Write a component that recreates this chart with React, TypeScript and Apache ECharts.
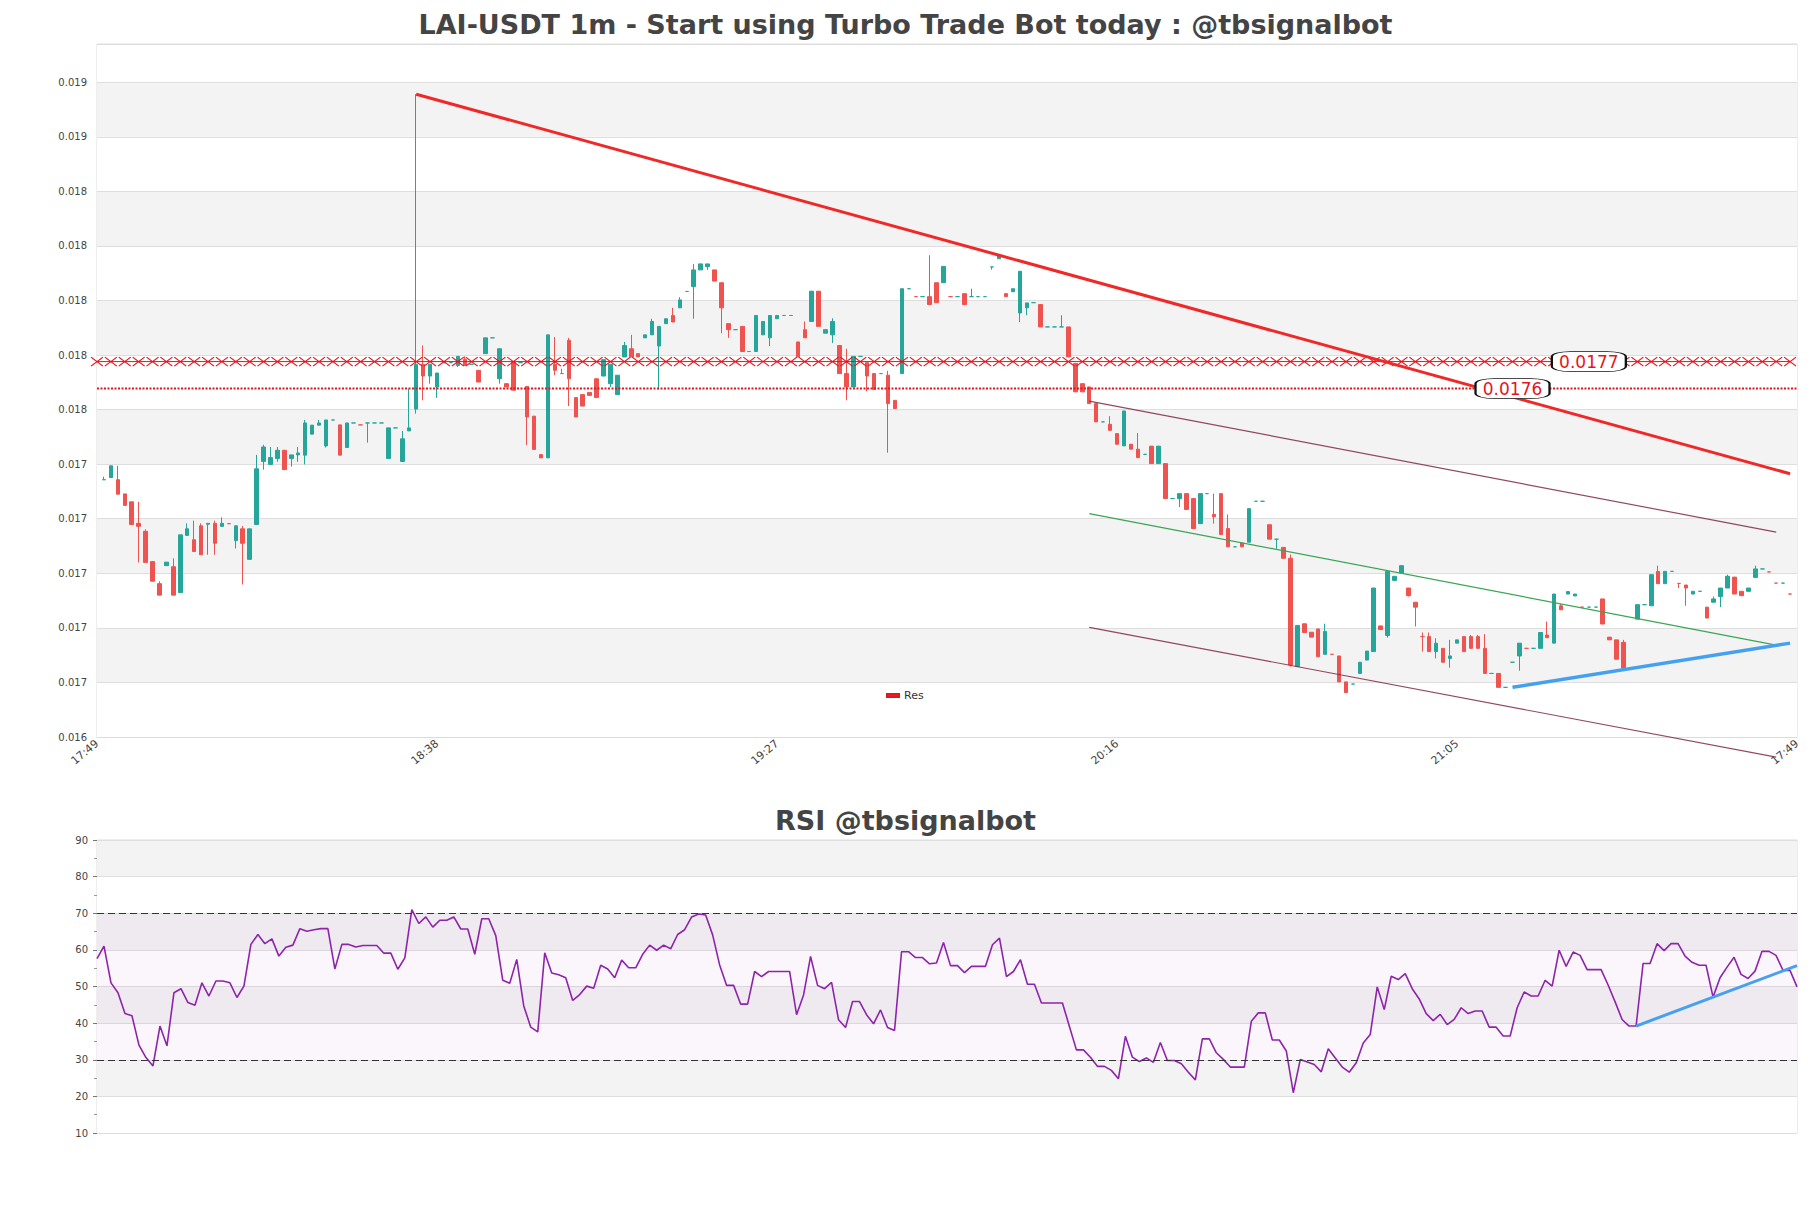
import React, { useEffect, useRef } from 'react';
import * as echarts from 'echarts';

const TITLE = 'LAI-USDT 1m - Start using Turbo Trade Bot today : @tbsignalbot';
const RSI_TITLE = 'RSI @tbsignalbot';
const FONT = 'DejaVu Sans';

// x tick labels (one every 49 minutes across the axis)
const tickLabels = ['17:49', '18:38', '19:27', '20:16', '21:05', '17:49'];
const TICK_STEP = 49;

// price axis: gridlines start at this base and step 0.0002
const AXIS_BASE = 0.01633;
const AXIS_SPAN = 0.00254;
const AXIS_STEP = 0.0002;

const opens = [
  0.017273, 0.017281, 0.017273, 0.017221, 0.017192, 0.017113, 0.017084, 0.016973, 0.016892, 0.016958,
  0.016954, 0.016859, 0.017069, 0.017053, 0.017104, 0.017110, 0.017113, 0.017102, 0.017112, 0.017050,
  0.017093, 0.016981, 0.017109, 0.017340, 0.017329, 0.017351, 0.017381, 0.017351, 0.017364, 0.017363,
  0.017440, 0.017473, 0.017397, 0.017492, 0.017474, 0.017391, 0.017481, 0.017474, 0.017481, 0.017481,
  0.017481, 0.017351, 0.017463, 0.017340, 0.017452, 0.017532, 0.017696, 0.017653, 0.017613, 0.017702,
  0.017702, 0.017692, 0.017714, 0.017696, 0.017674, 0.017735, 0.017793, 0.017643, 0.017625, 0.017702,
  0.017702, 0.017615, 0.017506, 0.017365, 0.017353, 0.017696, 0.017662, 0.017784, 0.017574, 0.017585,
  0.017593, 0.017643, 0.017653, 0.017625, 0.017585, 0.017723, 0.017753, 0.017735, 0.017793, 0.017804,
  0.017763, 0.017845, 0.017875, 0.017903, 0.017963, 0.017981, 0.018042, 0.018054, 0.018042, 0.017995,
  0.017845, 0.017823, 0.017835, 0.017743, 0.017743, 0.017804, 0.017793, 0.017863, 0.017875, 0.017875,
  0.017778, 0.017823, 0.017853, 0.017964, 0.017810, 0.017804, 0.017765, 0.017662, 0.017613, 0.017725,
  0.017702, 0.017662, 0.017662, 0.017656, 0.017564, 0.017662, 0.017973, 0.017944, 0.017944, 0.017944,
  0.017995, 0.017995, 0.017944, 0.017944, 0.017955, 0.017944, 0.017944, 0.017944, 0.018053, 0.018083,
  0.017955, 0.017962, 0.017884, 0.017903, 0.017922, 0.017915, 0.017833, 0.017833, 0.017833, 0.017833,
  0.017699, 0.017625, 0.017613, 0.017552, 0.017485, 0.017476, 0.017442, 0.017397, 0.017403, 0.017385,
  0.017366, 0.017396, 0.017332, 0.017332, 0.017204, 0.017204, 0.017222, 0.017204, 0.017112, 0.017222,
  0.017146, 0.017222, 0.017094, 0.017027, 0.017041, 0.017044, 0.017194, 0.017194, 0.017108, 0.017055,
  0.017025, 0.016985, 0.016588, 0.016745, 0.016714, 0.016726, 0.016633, 0.016633, 0.016627, 0.016532,
  0.016524, 0.016563, 0.016612, 0.016643, 0.016737, 0.016702, 0.016904, 0.016931, 0.016876, 0.016824,
  0.016698, 0.016698, 0.016643, 0.016655, 0.016618, 0.016674, 0.016698, 0.016698, 0.016698, 0.016655,
  0.016563, 0.016563, 0.016512, 0.016604, 0.016627, 0.016655, 0.016655, 0.016655, 0.016704, 0.016674,
  0.016811, 0.016854, 0.016847, 0.016806, 0.016806, 0.016806, 0.016836, 0.016696, 0.016686, 0.016677,
  0.016582, 0.016762, 0.016815, 0.016811, 0.016937, 0.016892, 0.016937, 0.016893, 0.016887, 0.016854,
  0.016864, 0.016806, 0.016824, 0.016845, 0.016876, 0.016916, 0.016864, 0.016864, 0.016915, 0.016946,
  0.016935, 0.016894, 0.016894, 0.016854,
];

const closes = [
  0.017273, 0.017324, 0.017220, 0.017179, 0.017109, 0.017102, 0.016970, 0.016901, 0.016850, 0.016971,
  0.016850, 0.017071, 0.017093, 0.017010, 0.016998, 0.017113, 0.017040, 0.017113, 0.017112, 0.017104,
  0.017040, 0.017093, 0.017313, 0.017393, 0.017354, 0.017381, 0.017310, 0.017364, 0.017371, 0.017481,
  0.017473, 0.017481, 0.017492, 0.017492, 0.017363, 0.017481, 0.017481, 0.017474, 0.017481, 0.017481,
  0.017481, 0.017463, 0.017463, 0.017423, 0.017463, 0.017696, 0.017653, 0.017696, 0.017664, 0.017702,
  0.017702, 0.017725, 0.017692, 0.017696, 0.017631, 0.017793, 0.017793, 0.017753, 0.017613, 0.017601,
  0.017702, 0.017503, 0.017384, 0.017353, 0.017804, 0.017674, 0.017662, 0.017643, 0.017503, 0.017543,
  0.017582, 0.017574, 0.017713, 0.017696, 0.017656, 0.017765, 0.017723, 0.017723, 0.017804, 0.017853,
  0.017835, 0.017863, 0.017851, 0.017932, 0.017963, 0.018042, 0.018064, 0.018064, 0.018001, 0.017903,
  0.017823, 0.017823, 0.017743, 0.017743, 0.017875, 0.017853, 0.017875, 0.017875, 0.017875, 0.017875,
  0.017723, 0.017793, 0.017964, 0.017835, 0.017823, 0.017853, 0.017662, 0.017613, 0.017725, 0.017725,
  0.017653, 0.017604, 0.017662, 0.017552, 0.017534, 0.017973, 0.017973, 0.017944, 0.017944, 0.017915,
  0.017922, 0.018055, 0.017944, 0.017944, 0.017915, 0.017944, 0.017944, 0.017944, 0.018053, 0.018096,
  0.017944, 0.017973, 0.018037, 0.017921, 0.017922, 0.017833, 0.017833, 0.017833, 0.017833, 0.017723,
  0.017595, 0.017595, 0.017552, 0.017485, 0.017485, 0.017454, 0.017403, 0.017525, 0.017385, 0.017354,
  0.017366, 0.017332, 0.017396, 0.017204, 0.017204, 0.017222, 0.017164, 0.017094, 0.017222, 0.017222,
  0.017137, 0.017072, 0.017027, 0.017027, 0.017027, 0.017167, 0.017194, 0.017194, 0.017055, 0.017055,
  0.016985, 0.016594, 0.016739, 0.016713, 0.016696, 0.016624, 0.016717, 0.016633, 0.016532, 0.016493,
  0.016524, 0.016604, 0.016645, 0.016876, 0.016724, 0.016937, 0.016919, 0.016958, 0.016848, 0.016806,
  0.016698, 0.016643, 0.016674, 0.016604, 0.016627, 0.016686, 0.016643, 0.016655, 0.016655, 0.016563,
  0.016563, 0.016512, 0.016512, 0.016604, 0.016674, 0.016655, 0.016655, 0.016713, 0.016694, 0.016854,
  0.016796, 0.016863, 0.016854, 0.016806, 0.016806, 0.016806, 0.016744, 0.016686, 0.016615, 0.016582,
  0.016582, 0.016815, 0.016815, 0.016925, 0.016892, 0.016937, 0.016937, 0.016893, 0.016876, 0.016864,
  0.016864, 0.016766, 0.016836, 0.016876, 0.016919, 0.016854, 0.016848, 0.016876, 0.016946, 0.016946,
  0.016935, 0.016894, 0.016894, 0.016854,
];

const lows = [
  0.017273, 0.017281, 0.017220, 0.017179, 0.017109, 0.016970, 0.016970, 0.016901, 0.016850, 0.016958,
  0.016850, 0.016859, 0.017069, 0.017010, 0.016998, 0.016998, 0.016998, 0.017102, 0.017112, 0.017021,
  0.016889, 0.016981, 0.017109, 0.017310, 0.017329, 0.017339, 0.017310, 0.017321, 0.017339, 0.017329,
  0.017440, 0.017473, 0.017391, 0.017492, 0.017363, 0.017391, 0.017481, 0.017474, 0.017409, 0.017481,
  0.017481, 0.017351, 0.017463, 0.017340, 0.017452, 0.017515, 0.017564, 0.017625, 0.017573, 0.017702,
  0.017702, 0.017686, 0.017692, 0.017696, 0.017631, 0.017735, 0.017793, 0.017625, 0.017613, 0.017601,
  0.017702, 0.017400, 0.017384, 0.017353, 0.017353, 0.017656, 0.017662, 0.017543, 0.017503, 0.017543,
  0.017582, 0.017574, 0.017653, 0.017613, 0.017585, 0.017723, 0.017723, 0.017723, 0.017793, 0.017804,
  0.017604, 0.017845, 0.017851, 0.017903, 0.017963, 0.017863, 0.018042, 0.018042, 0.018001, 0.017810,
  0.017793, 0.017823, 0.017743, 0.017743, 0.017743, 0.017804, 0.017763, 0.017863, 0.017875, 0.017875,
  0.017723, 0.017793, 0.017853, 0.017835, 0.017810, 0.017774, 0.017662, 0.017564, 0.017613, 0.017725,
  0.017597, 0.017604, 0.017662, 0.017372, 0.017534, 0.017662, 0.017973, 0.017944, 0.017944, 0.017915,
  0.017922, 0.017995, 0.017944, 0.017944, 0.017915, 0.017944, 0.017944, 0.017944, 0.018043, 0.018083,
  0.017944, 0.017962, 0.017851, 0.017876, 0.017922, 0.017833, 0.017833, 0.017833, 0.017833, 0.017723,
  0.017595, 0.017595, 0.017552, 0.017485, 0.017485, 0.017454, 0.017403, 0.017397, 0.017385, 0.017354,
  0.017366, 0.017332, 0.017332, 0.017204, 0.017204, 0.017173, 0.017164, 0.017094, 0.017112, 0.017222,
  0.017112, 0.017072, 0.017027, 0.017027, 0.017027, 0.017044, 0.017194, 0.017194, 0.017055, 0.017020,
  0.016985, 0.016588, 0.016588, 0.016713, 0.016696, 0.016624, 0.016633, 0.016633, 0.016532, 0.016493,
  0.016524, 0.016563, 0.016612, 0.016643, 0.016724, 0.016694, 0.016904, 0.016931, 0.016845, 0.016735,
  0.016643, 0.016643, 0.016618, 0.016604, 0.016584, 0.016674, 0.016643, 0.016655, 0.016655, 0.016563,
  0.016563, 0.016512, 0.016512, 0.016604, 0.016573, 0.016655, 0.016655, 0.016655, 0.016694, 0.016674,
  0.016796, 0.016854, 0.016847, 0.016806, 0.016806, 0.016806, 0.016744, 0.016686, 0.016615, 0.016582,
  0.016582, 0.016762, 0.016815, 0.016811, 0.016892, 0.016892, 0.016937, 0.016876, 0.016811, 0.016854,
  0.016864, 0.016766, 0.016824, 0.016806, 0.016876, 0.016854, 0.016848, 0.016864, 0.016915, 0.016946,
  0.016935, 0.016894, 0.016894, 0.016854,
];

const highs = [
  0.017284, 0.017324, 0.017324, 0.017221, 0.017192, 0.017192, 0.017091, 0.016973, 0.016901, 0.016971,
  0.016985, 0.017071, 0.017113, 0.017123, 0.017113, 0.017113, 0.017123, 0.017135, 0.017112, 0.017104,
  0.017103, 0.017093, 0.017364, 0.017401, 0.017393, 0.017393, 0.017381, 0.017364, 0.017393, 0.017492,
  0.017473, 0.017492, 0.017492, 0.017492, 0.017474, 0.017481, 0.017481, 0.017474, 0.017481, 0.017481,
  0.017481, 0.017463, 0.017463, 0.017452, 0.017606, 0.018686, 0.017765, 0.017696, 0.017664, 0.017702,
  0.017702, 0.017725, 0.017725, 0.017696, 0.017674, 0.017793, 0.017793, 0.017753, 0.017625, 0.017702,
  0.017702, 0.017615, 0.017506, 0.017365, 0.017804, 0.017796, 0.017680, 0.017793, 0.017574, 0.017585,
  0.017593, 0.017643, 0.017713, 0.017696, 0.017656, 0.017778, 0.017804, 0.017735, 0.017804, 0.017863,
  0.017835, 0.017863, 0.017903, 0.017942, 0.017963, 0.018064, 0.018064, 0.018064, 0.018042, 0.017995,
  0.017845, 0.017823, 0.017835, 0.017743, 0.017875, 0.017853, 0.017875, 0.017875, 0.017875, 0.017875,
  0.017778, 0.017853, 0.017964, 0.017964, 0.017823, 0.017865, 0.017765, 0.017753, 0.017725, 0.017725,
  0.017702, 0.017662, 0.017662, 0.017672, 0.017564, 0.017973, 0.017973, 0.017944, 0.017944, 0.018096,
  0.017995, 0.018055, 0.017944, 0.017944, 0.017955, 0.017973, 0.017944, 0.017944, 0.018053, 0.018096,
  0.017955, 0.017973, 0.018037, 0.017921, 0.017922, 0.017915, 0.017833, 0.017833, 0.017876, 0.017833,
  0.017699, 0.017625, 0.017613, 0.017552, 0.017485, 0.017506, 0.017442, 0.017525, 0.017403, 0.017444,
  0.017366, 0.017396, 0.017396, 0.017332, 0.017204, 0.017222, 0.017222, 0.017204, 0.017222, 0.017222,
  0.017222, 0.017222, 0.017146, 0.017027, 0.017041, 0.017167, 0.017194, 0.017194, 0.017108, 0.017055,
  0.017025, 0.016999, 0.016739, 0.016745, 0.016714, 0.016726, 0.016745, 0.016633, 0.016627, 0.016532,
  0.016524, 0.016604, 0.016645, 0.016876, 0.016737, 0.016937, 0.016919, 0.016958, 0.016876, 0.016824,
  0.016713, 0.016713, 0.016692, 0.016655, 0.016686, 0.016686, 0.016698, 0.016704, 0.016704, 0.016707,
  0.016563, 0.016563, 0.016512, 0.016604, 0.016674, 0.016655, 0.016655, 0.016713, 0.016753, 0.016854,
  0.016818, 0.016863, 0.016854, 0.016806, 0.016806, 0.016806, 0.016836, 0.016696, 0.016686, 0.016686,
  0.016582, 0.016815, 0.016815, 0.016925, 0.016958, 0.016937, 0.016937, 0.016893, 0.016887, 0.016864,
  0.016864, 0.016806, 0.016845, 0.016876, 0.016925, 0.016916, 0.016864, 0.016876, 0.016958, 0.016946,
  0.016935, 0.016894, 0.016894, 0.016854,
];

const rsiValues = [
  57.6, 61.0, 51.0, 48.3, 42.6, 42.0, 34.0, 30.6, 28.3, 39.2,
  33.8, 48.3, 49.4, 45.6, 44.9, 51.0, 47.4, 51.5, 51.5, 51.0,
  47.0, 50.1, 61.5, 64.2, 61.7, 63.0, 58.3, 60.7, 61.3, 65.8,
  65.1, 65.5, 65.8, 65.8, 54.8, 61.5, 61.5, 60.8, 61.2, 61.2,
  61.2, 59.1, 59.1, 54.7, 57.8, 71.0, 67.2, 69.0, 66.2, 68.1,
  68.1, 69.0, 65.7, 65.7, 58.8, 68.5, 68.5, 63.9, 51.7, 50.9,
  57.4, 44.7, 38.9, 37.6, 59.2, 53.7, 53.2, 52.4, 46.2, 47.8,
  50.1, 49.5, 55.8, 54.8, 52.4, 57.2, 55.1, 55.1, 58.8, 61.3,
  59.9, 61.3, 60.3, 64.2, 65.5, 69.0, 69.8, 69.5, 64.1, 55.9,
  50.3, 50.3, 45.2, 45.2, 54.1, 52.7, 54.1, 54.1, 54.1, 54.1,
  42.3, 47.7, 58.2, 50.3, 49.4, 51.1, 40.9, 38.8, 45.9, 45.9,
  42.3, 39.8, 43.6, 38.8, 38.0, 59.5, 59.5, 57.9, 57.9, 56.2,
  56.4, 62.0, 55.7, 55.7, 53.8, 55.5, 55.5, 55.5, 61.4, 63.2,
  52.7, 54.1, 57.3, 50.6, 50.6, 45.5, 45.5, 45.5, 45.5, 39.1,
  32.7, 32.7, 30.7, 28.2, 28.2, 27.1, 24.8, 36.4, 30.7, 29.5,
  30.5, 29.3, 34.7, 29.8, 29.8, 28.9, 26.6, 24.5, 35.7, 35.7,
  31.9, 30.1, 28.0, 28.0, 28.0, 40.5, 42.8, 42.8, 35.4, 35.4,
  32.4, 21.0, 30.1, 29.4, 28.7, 26.7, 33.0, 30.5, 28.0, 26.6,
  29.2, 34.6, 36.9, 49.9, 43.7, 52.8, 51.9, 53.5, 49.4, 46.6,
  42.6, 40.7, 42.4, 39.6, 41.0, 44.2, 42.6, 43.3, 43.3, 38.9,
  38.9, 36.5, 36.5, 44.2, 48.5, 47.4, 47.4, 51.7, 50.1, 59.9,
  55.5, 59.4, 58.5, 54.6, 54.6, 54.6, 50.4, 45.8, 41.0, 39.2,
  39.2, 56.3, 56.3, 61.7, 59.8, 61.7, 61.7, 58.3, 56.6, 55.8,
  55.8, 47.1, 52.4, 55.3, 58.0, 53.3, 52.2, 54.2, 59.6, 59.6,
  58.5, 54.4, 54.4, 49.9,
];

// horizontal levels
const resLevel = 0.017706;
const resLabel = '0.0177';
const resLabelAt = 215;
const supLevel = 0.017607;
const supLabel = '0.0176';
const supLabelAt = 204;

// trend lines: [candle position, price]
const downTrend = [[46, 0.018686], [244, 0.017295]];
const channelUpper = [[143, 0.017561], [242, 0.017081]];
const channelMid = [[143, 0.017149], [242, 0.016667]];
const channelLower = [[143, 0.016732], [242, 0.016256]];
const supportTrend = [[204, 0.016512], [244, 0.016674]];

// RSI
const rsiTrend = [[220, 39.2], [243, 55.7]];
const rsiLevels = [30, 70];

const sh = (v: number) => Math.round((v - AXIS_BASE) * 1e8) / 1e8;
const shiftPts = (pts: number[][]) => pts.map(([x, y]) => [x, sh(y)]);

function buildOption() {
  const nCat = opens.length + 2;
  const categories = Array.from({ length: nCat }, (_, k) => String(k));
  const rsiCats = rsiValues.map((_, j) => String(j));
  const candleData = opens.map((o, i) => [i + 1, sh(o), sh(closes[i]), sh(lows[i]), sh(highs[i])]);
  const resData = categories.filter((_, k) => k % 2 === 0).map((_, i) => [i * 2, sh(resLevel)]);
  const supData = [[0, sh(supLevel)], [nCat - 1, sh(supLevel)]];
  const RED = '#e8141c';
  const labelBox = (txt: string, at: number, lvl: number) => ({
    symbol: 'roundRect',
    symbolSize: [74, 20],
    silent: true,
    itemStyle: { color: '#fff', borderColor: '#111', borderWidth: 1.2 },
    label: { show: true, position: 'inside', formatter: txt, color: RED, fontSize: 17, fontFamily: FONT },
    data: [{ coord: [at, sh(lvl)] }],
  });
  const line = (name: string, data: number[][], color: string, width: number, extra: any = {}) => ({
    name, type: 'line', xAxisIndex: 0, yAxisIndex: 0, data, symbol: 'none', silent: true,
    lineStyle: { color, width }, z: 4, ...extra,
  });

  return {
    animation: false,
    backgroundColor: '#fff',
    textStyle: { fontFamily: FONT },
    title: [
      { text: TITLE, left: 'center', top: 6, textStyle: { fontSize: 27, fontWeight: 'bold', color: '#444', fontFamily: FONT } },
      { text: RSI_TITLE, left: 'center', top: 802, textStyle: { fontSize: 27, fontWeight: 'bold', color: '#444', fontFamily: FONT } },
    ],
    legend: {
      data: [{ name: 'Res', itemStyle: { color: '#d62728' } }],
      left: 881, top: 685, icon: 'rect', itemWidth: 12, itemHeight: 3, itemGap: 6,
      textStyle: { fontSize: 11, color: '#333', fontFamily: FONT },
      selectedMode: false,
    },
    grid: [
      { left: 97, top: 44, width: 1700, height: 693, show: true, borderColor: '#dcdcdc', borderWidth: 1, backgroundColor: 'transparent', outerBoundsMode: 'none' },
      { left: 97, top: 840, width: 1700, height: 293, show: true, borderColor: '#dcdcdc', borderWidth: 1, backgroundColor: 'transparent', outerBoundsMode: 'none' },
    ],
    xAxis: [
      {
        type: 'category', gridIndex: 0, data: categories, boundaryGap: false,
        axisLine: { show: true, lineStyle: { color: '#dcdcdc' } },
        axisTick: { show: false },
        splitLine: { show: false },
        axisLabel: {
          interval: TICK_STEP - 1, rotate: 40, fontSize: 11, color: '#444', margin: 5, fontFamily: FONT,
          formatter: (_v: string, idx: number) => (idx % TICK_STEP === 0 ? tickLabels[idx / TICK_STEP] : ''),
        },
      },
      {
        type: 'category', gridIndex: 1, data: rsiCats, boundaryGap: false,
        axisLine: { show: false }, axisTick: { show: false }, axisLabel: { show: false }, splitLine: { show: false },
      },
    ],
    yAxis: [
      {
        type: 'value', gridIndex: 0, min: 0, max: AXIS_SPAN, interval: AXIS_STEP, scale: false,
        axisLine: { show: false }, axisTick: { show: false },
        axisLabel: {
          fontSize: 10, color: '#444', margin: 10, fontFamily: FONT, showMaxLabel: false,
          formatter: (v: number) => (v + AXIS_BASE).toFixed(3),
        },
        splitLine: { show: true, lineStyle: { color: '#dedede', width: 1 } },
        splitArea: { show: true, areaStyle: { color: ['#ffffff', '#f3f3f3'] } },
      },
      {
        type: 'value', gridIndex: 1, min: 10, max: 90, interval: 10,
        axisLine: { show: false },
        axisTick: { show: true, length: 4, lineStyle: { color: '#777' } },
        minorTick: { show: true, splitNumber: 2, length: 3, lineStyle: { color: '#999' } },
        axisLabel: { fontSize: 10, color: '#444', margin: 9, fontFamily: FONT },
        splitLine: { show: true, lineStyle: { color: '#dedede', width: 1 } },
        splitArea: { show: true, areaStyle: { color: ['#ffffff', '#f3f3f3'] } },
      },
    ],
    series: [
      {
        name: 'Price', type: 'candlestick', xAxisIndex: 0, yAxisIndex: 0,
        data: candleData, encode: { x: 0, y: [1, 2, 3, 4] }, barWidth: 4, silent: true, z: 2,
        itemStyle: { color: '#26a69a', color0: '#ef5350', borderColor: '#26a69a', borderColor0: '#ef5350', borderWidth: 1 },
      },
      {
        name: 'Res', type: 'line', xAxisIndex: 0, yAxisIndex: 0, data: resData, silent: true, z: 3,
        symbol: 'path://M0 0L10 10M0 10L10 0', symbolSize: [12, 9], showSymbol: true, showAllSymbol: true,
        lineStyle: { color: RED, width: 1 },
        itemStyle: { color: 'rgba(0,0,0,0)', borderColor: RED, borderWidth: 1 },
        markPoint: labelBox(resLabel, resLabelAt, resLevel),
      },
      line('Sup', supData, RED, 2, { lineStyle: { color: RED, width: 2, type: [2, 1.5] }, markPoint: labelBox(supLabel, supLabelAt, supLevel) }),
      line('Down', shiftPts(downTrend), '#f02828', 3),
      line('ChanUp', shiftPts(channelUpper), 'rgba(128,40,70,0.85)', 1.2),
      line('ChanMid', shiftPts(channelMid), '#3aa655', 1.2),
      line('ChanLow', shiftPts(channelLower), 'rgba(128,40,70,0.85)', 1.2, { clip: false }),
      line('Support', shiftPts(supportTrend), '#45a0f0', 3.5),
      {
        name: 'RSI', type: 'line', xAxisIndex: 1, yAxisIndex: 1, data: rsiValues, symbol: 'none', silent: true,
        lineStyle: { color: '#8e24aa', width: 1.6 }, z: 3,
        markLine: {
          silent: true, symbol: 'none', label: { show: false },
          lineStyle: { color: '#333', type: [7, 4], width: 1.2 },
          data: rsiLevels.map((v) => ({ yAxis: v })),
        },
        markArea: {
          silent: true,
          itemStyle: { color: 'rgba(156,39,176,0.045)' },
          data: [[{ yAxis: rsiLevels[0] }, { yAxis: rsiLevels[1] }]],
        },
      },
      {
        name: 'RSITrend', type: 'line', xAxisIndex: 1, yAxisIndex: 1, data: rsiTrend, symbol: 'none', silent: true,
        lineStyle: { color: '#45a0f0', width: 3 }, z: 4,
      },
    ],
  };
}

export default function App() {
  const ref = useRef<HTMLDivElement>(null);
  useEffect(() => {
    if (!ref.current) return;
    const chart = echarts.init(ref.current, undefined, { renderer: 'svg' });
    chart.setOption(buildOption() as any);
    return () => chart.dispose();
  }, []);
  return (
    <div
      ref={ref}
      style={{ position: 'absolute', left: 0, top: 0, width: 1811, height: 1208, background: '#fff' }}
    />
  );
}
